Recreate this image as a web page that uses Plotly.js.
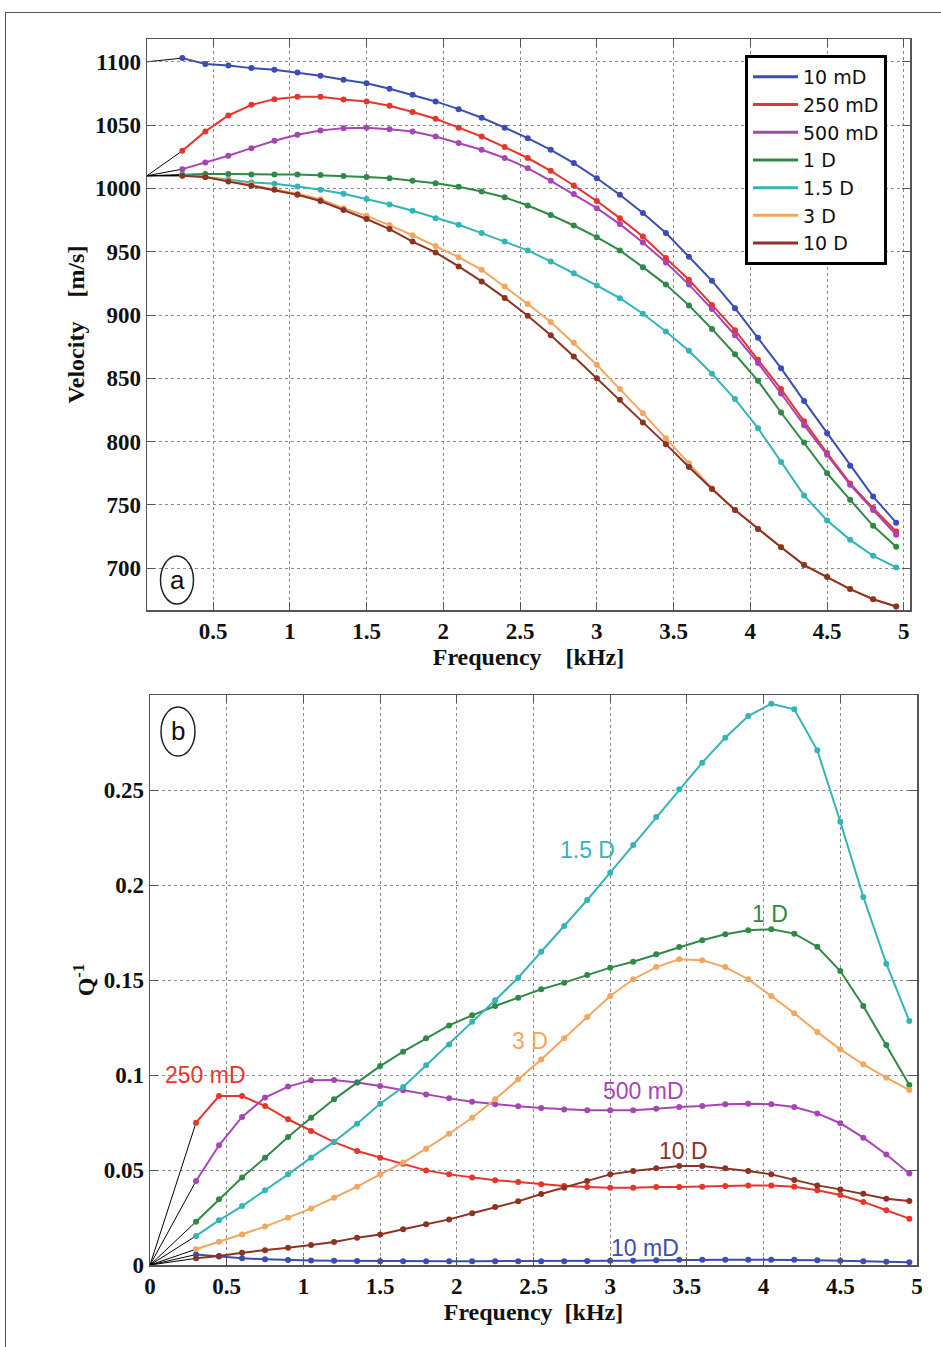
<!DOCTYPE html>
<html><head><meta charset="utf-8">
<script src="https://cdn.plot.ly/plotly-3.0.1.min.js"></script>
<style>
html,body{margin:0;padding:0;background:#fff;}
#chart{width:941px;height:1347px;}
#frame{position:absolute;left:5px;top:12px;width:940px;height:1340px;border-top:1px solid #555;border-left:1px solid #555;pointer-events:none;}
</style>
</head><body>
<div id="chart"></div><div id="frame"></div>
<script>
// ---------- data ----------
const frequency = [0.3, 0.45, 0.6, 0.75, 0.9, 1.05, 1.2, 1.35, 1.5, 1.65, 1.8, 1.95, 2.1, 2.25, 2.4, 2.55,
  2.7, 2.85, 3.0, 3.15, 3.3, 3.45, 3.6, 3.75, 3.9, 4.05, 4.2, 4.35, 4.5, 4.65, 4.8, 4.95];
const seriesNames = ['10 mD', '250 mD', '500 mD', '1 D', '1.5 D', '3 D', '10 D'];
const seriesColors = ['#3B4DB3', '#E8352C', '#A646B5', '#2E8A46', '#33B5B7', '#F4A65E', '#8C3323'];

const velocity10mD = [1102.9, 1098.2, 1097, 1095, 1093.7, 1091.5, 1089, 1085.8, 1083, 1078.7, 1074, 1068.7, 1062.6, 1055.8, 1048, 1039.7,
  1030.5, 1020, 1008, 995, 980.5, 964.7, 946, 927, 905.4, 882, 858, 832, 806.7, 781, 756.6, 736];
const velocity250mD = [1029.7, 1045, 1057.6, 1066, 1070.5, 1072.4, 1072.4, 1070.2, 1068.7, 1065.2, 1060.3, 1055, 1048, 1041, 1032.6, 1024,
  1013.9, 1002.3, 990, 976.5, 962, 945, 927.8, 908, 888, 864.6, 841.5, 816, 791, 767, 747.5, 729];
const velocity500mD = [1015.2, 1020.5, 1025.8, 1031.8, 1037.6, 1042.3, 1045.7, 1047.6, 1048, 1046.8, 1044.9, 1041, 1035.8, 1030.5, 1024, 1016,
  1006, 995.5, 984.4, 971.8, 957.3, 941.5, 924, 904.7, 884, 862, 838, 813, 789.6, 765.9, 746, 726.4];
const velocity1D = [1010.7, 1011.3, 1011.3, 1011, 1011, 1011, 1010.5, 1009.7, 1009, 1008, 1006, 1004, 1001.3, 997.6, 993, 986.5,
  979, 970.7, 961.5, 951, 937.8, 924, 907.6, 889, 869, 848, 823, 799.3, 775, 754, 733.5, 717];
const velocity1p5D = [1010.7, 1009, 1007, 1004.7, 1003.6, 1001.5, 999, 995.7, 991.6, 987.3, 982.3, 976.5, 971.3, 964.7, 958, 951,
  942.3, 933, 923.3, 913.3, 901, 887, 871.7, 853.6, 833.6, 810.6, 783.8, 757.5, 737.7, 722.4, 709.8, 700.6];
const velocity3D = [1010, 1009, 1006.3, 1002.8, 999.4, 995.7, 991.5, 984.4, 978.3, 971, 963, 954.5, 945.7, 935.7, 922.5, 908.7,
  894.5, 878, 860.7, 841.5, 822.5, 802.6, 783, 763, 746, 731, 716.7, 702.7, 693.4, 683.5, 675.6, 669.8];
const velocity10D = [1010, 1009, 1005.5, 1002, 999, 995, 990, 983, 975.8, 967.9, 958, 949.4, 938.4, 926.5, 913.5, 899.4,
  884, 867.3, 850, 833, 815, 798, 780, 762.5, 746, 731, 716.5, 702.5, 693, 683.5, 675.5, 669.8];

const q10mD = [0.0055, 0.0045, 0.0035, 0.003, 0.0026, 0.0024, 0.0022, 0.0021, 0.002, 0.002, 0.002, 0.002, 0.002, 0.002, 0.002, 0.002,
  0.002, 0.0021, 0.0022, 0.0023, 0.0025, 0.0027, 0.0028, 0.0028, 0.0028, 0.0028, 0.0027, 0.0025, 0.0022, 0.002, 0.0017, 0.0015];
const q250mD = [0.0749, 0.0889, 0.0889, 0.0837, 0.0767, 0.0705, 0.0647, 0.06, 0.0565, 0.0533, 0.0498, 0.0477, 0.046, 0.0446, 0.0437, 0.0425,
  0.0416, 0.0411, 0.0407, 0.0407, 0.0411, 0.0411, 0.0412, 0.0416, 0.0419, 0.0419, 0.0412, 0.0393, 0.0368, 0.0332, 0.0288, 0.0244];
const q500mD = [0.0442, 0.063, 0.0779, 0.0881, 0.0939, 0.0972, 0.0974, 0.096, 0.0942, 0.092, 0.0898, 0.0877, 0.0859, 0.0846, 0.0836, 0.0826,
  0.0819, 0.0814, 0.0814, 0.0814, 0.0823, 0.0832, 0.0837, 0.0846, 0.0849, 0.0846, 0.0832, 0.0798, 0.0746, 0.067, 0.0582, 0.0482];
const q1D = [0.0228, 0.0346, 0.046, 0.0565, 0.0674, 0.0775, 0.0872, 0.096, 0.1047, 0.1123, 0.1193, 0.1261, 0.1314, 0.1363, 0.1407, 0.1451,
  0.1486, 0.1526, 0.1565, 0.1596, 0.1635, 0.1674, 0.1709, 0.1741, 0.1762, 0.1767, 0.1744, 0.1675, 0.1547, 0.1363, 0.1158, 0.0947];
const q1p5D = [0.0153, 0.0235, 0.031, 0.0393, 0.0477, 0.0565, 0.0649, 0.0744, 0.0849, 0.0937, 0.1051, 0.1161, 0.128, 0.1393, 0.1512, 0.1649,
  0.1784, 0.1921, 0.2065, 0.221, 0.2358, 0.2504, 0.2644, 0.2775, 0.2889, 0.2954, 0.2925, 0.2709, 0.2333, 0.1937, 0.1586, 0.1284];
const q3D = [0.0083, 0.0123, 0.0161, 0.0202, 0.0249, 0.0298, 0.0354, 0.0412, 0.0477, 0.0539, 0.0612, 0.0691, 0.0775, 0.0872, 0.0977, 0.1082,
  0.1193, 0.1305, 0.1416, 0.1504, 0.1568, 0.1609, 0.1604, 0.1568, 0.1504, 0.1416, 0.1325, 0.1226, 0.1135, 0.1056, 0.0986, 0.0921];
const q10D = [0.0035, 0.0047, 0.0065, 0.0077, 0.0091, 0.0105, 0.0121, 0.0144, 0.0161, 0.0188, 0.0214, 0.024, 0.0272, 0.0305, 0.0335, 0.0374,
  0.0407, 0.0442, 0.0477, 0.0495, 0.0509, 0.0521, 0.0521, 0.0509, 0.0495, 0.0477, 0.0447, 0.0419, 0.0398, 0.0375, 0.0349, 0.0337];

// low-frequency limits joined to the first computed point (black lines)
const fanFreqTop = 0.07;
const fanFreqBottom = 0;
const velocityLowLimit = [1100, 1010, 1010, 1010, 1010, 1010, 1010];
const qLowLimit = [0, 0, 0, 0, 0, 0, 0];

const freqTicksTop = [0.5, 1, 1.5, 2, 2.5, 3, 3.5, 4, 4.5, 5];
const freqTickLabelsTop = ['0.5', '1', '1.5', '2', '2.5', '3', '3.5', '4', '4.5', '5'];
const freqTicksBottom = [0, 0.5, 1, 1.5, 2, 2.5, 3, 3.5, 4, 4.5, 5];
const freqTickLabelsBottom = ['0', '0.5', '1', '1.5', '2', '2.5', '3', '3.5', '4', '4.5', '5'];
const velocityTicks = [700, 750, 800, 850, 900, 950, 1000, 1050, 1100];
const qTicks = [0, 0.05, 0.1, 0.15, 0.2, 0.25];
const qTickLabels = ['0', '0.05', '0.1', '0.15', '0.2', '0.25'];

// curve labels in panel b: [text, freq, Q, series index]
const curveLabels = [
  ['1.5 D', 2.855, 0.2184, 4],
  ['1 D', 4.04, 0.1847, 3],
  ['3 D', 2.48, 0.1179, 5],
  ['250 mD', 0.365, 0.1, 1],
  ['500 mD', 3.215, 0.0916, 2],
  ['10 D', 3.48, 0.06, 6],
  ['10 mD', 3.23, 0.0089, 0]
];

// ---------- traces ----------
const velocitySeries = [velocity10mD, velocity250mD, velocity500mD, velocity1D, velocity1p5D, velocity3D, velocity10D];
const qSeries = [q10mD, q250mD, q500mD, q1D, q1p5D, q3D, q10D];
const traces = [];

velocitySeries.forEach((v, i) => {
  traces.push({x: [fanFreqTop, frequency[0]], y: [velocityLowLimit[i], v[0]], mode: 'lines',
    line: {color: '#000', width: 1}, xaxis: 'x', yaxis: 'y', showlegend: false, hoverinfo: 'skip'});
});
qSeries.forEach((q, i) => {
  traces.push({x: [fanFreqBottom, frequency[0]], y: [qLowLimit[i], q[0]], mode: 'lines',
    line: {color: '#000', width: 1}, xaxis: 'x2', yaxis: 'y2', showlegend: false, hoverinfo: 'skip'});
});
velocitySeries.forEach((v, i) => {
  traces.push({x: frequency, y: v, name: seriesNames[i], mode: 'lines+markers',
    line: {color: seriesColors[i], width: 2}, marker: {color: seriesColors[i], size: 6},
    xaxis: 'x', yaxis: 'y', showlegend: false});
});
qSeries.forEach((q, i) => {
  traces.push({x: frequency, y: q, name: seriesNames[i], mode: 'lines+markers',
    line: {color: seriesColors[i], width: 2}, marker: {color: seriesColors[i], size: 6},
    xaxis: 'x2', yaxis: 'y2', showlegend: false});
});
// legend entries (lines only, like the reference legend)
seriesNames.forEach((n, i) => {
  traces.push({x: [null], y: [null], name: n, mode: 'lines',
    line: {color: seriesColors[i], width: 3}, xaxis: 'x', yaxis: 'y', showlegend: true, hoverinfo: 'skip'});
});

// ---------- layout ----------
const W = 941, H = 1347;
const tickFont = {family: 'Liberation Serif, Times New Roman, serif', size: 23, color: '#111', weight: 'bold'};
const titleFont = {family: 'Liberation Serif, Times New Roman, serif', size: 24, color: '#111', weight: 'bold'};
const axisBase = {
  showline: true, linecolor: '#555', linewidth: 1.5, mirror: 'ticks',
  ticks: 'inside', ticklen: 8, tickwidth: 1, tickcolor: '#555',
  showgrid: true, gridcolor: '#8a8a8a', griddash: 'dot', gridwidth: 1,
  zeroline: false, tickfont: tickFont, automargin: false, fixedrange: true
};
const px = x => x / W;
const py = y => 1 - y / H;

const annotations = curveLabels.map(l => ({
  text: l[0], x: l[1], y: l[2], xref: 'x2', yref: 'y2', showarrow: false,
  font: {family: 'Liberation Sans, Arial, sans-serif', size: 23, color: seriesColors[l[3]]},
  xanchor: 'center', yanchor: 'middle'
}));
annotations.push({text: 'a', x: px(177), y: py(580), xref: 'paper', yref: 'paper', showarrow: false,
  font: {family: 'Liberation Sans, Arial, sans-serif', size: 26, color: '#111'}, xanchor: 'center', yanchor: 'middle'});
annotations.push({text: 'b', x: px(178), y: py(731), xref: 'paper', yref: 'paper', showarrow: false,
  font: {family: 'Liberation Sans, Arial, sans-serif', size: 26, color: '#111'}, xanchor: 'center', yanchor: 'middle'});

const layout = {
  width: W, height: H,
  margin: {l: 0, r: 0, t: 0, b: 0, pad: 0},
  paper_bgcolor: '#fff', plot_bgcolor: '#fff',
  showlegend: true,
  legend: {
    x: px(745), y: py(55), xanchor: 'left', yanchor: 'top',
    bgcolor: '#fff', bordercolor: '#000', borderwidth: 3,
    font: {family: 'DejaVu Sans, Liberation Sans, sans-serif', size: 19, color: '#111'},
    tracegroupgap: 0, itemwidth: 45
  },
  xaxis: Object.assign({}, axisBase, {
    domain: [px(147), px(910)], range: [0.07, 5.04], anchor: 'y',
    tickvals: freqTicksTop, ticktext: freqTickLabelsTop,
    title: {text: 'Frequency\u00a0\u00a0\u00a0\u00a0[kHz]', font: titleFont, standoff: 1}
  }),
  yaxis: Object.assign({}, axisBase, {
    domain: [py(610), py(39)], range: [667, 1118], anchor: 'x',
    tickvals: velocityTicks,
    title: {text: 'Velocity\u00a0\u00a0\u00a0\u00a0[m/s]', font: titleFont, standoff: 3}
  }),
  xaxis2: Object.assign({}, axisBase, {
    domain: [px(150), px(917)], range: [0, 5], anchor: 'y2',
    tickvals: freqTicksBottom, ticktext: freqTickLabelsBottom,
    title: {text: 'Frequency\u00a0\u00a0[kHz]', font: titleFont, standoff: 0}
  }),
  yaxis2: Object.assign({}, axisBase, {
    domain: [py(1265), py(695)], range: [0, 0.3], anchor: 'x2',
    tickvals: qTicks, ticktext: qTickLabels,
    title: {text: 'Q<sup>-1</sup>', font: titleFont, standoff: 2}
  }),
  shapes: [
    {type: 'circle', xref: 'paper', yref: 'paper', x0: px(160.5), x1: px(193.5), y0: py(604), y1: py(556),
      line: {color: '#222', width: 1.5}},
    {type: 'circle', xref: 'paper', yref: 'paper', x0: px(161), x1: px(195), y0: py(756), y1: py(707),
      line: {color: '#222', width: 1.5}}
  ],
  annotations: annotations
};

Plotly.newPlot('chart', traces, layout, {displayModeBar: false, staticPlot: true});
</script>
</body></html>
